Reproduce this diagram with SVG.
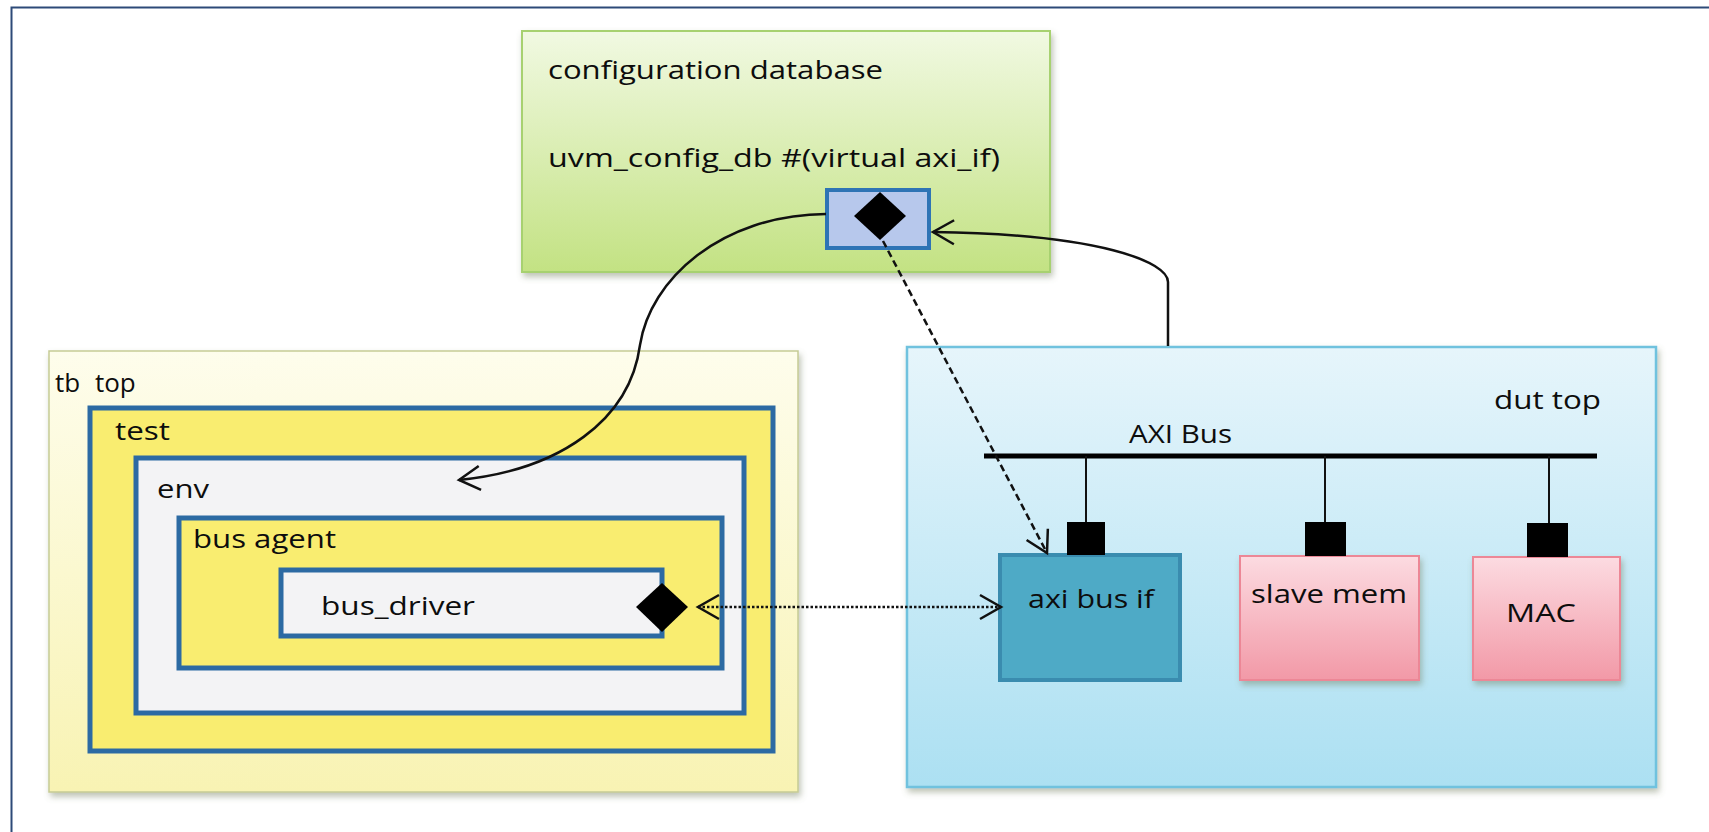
<svg xmlns="http://www.w3.org/2000/svg" width="1709" height="832" viewBox="0 0 1709 832">
  <style>
    .lbl { font-family: "Open Sans", "Liberation Sans", sans-serif; font-size: 26px; fill: #0d0d0d; }
    .blue { stroke: #2c6aa3; stroke-width: 5; }
    .conn { fill: none; stroke: #111; stroke-width: 2.5; }
  </style>
  <defs>
    <linearGradient id="gCfg" x1="0" y1="0" x2="0" y2="1">
      <stop offset="0" stop-color="#f1f9e2"/>
      <stop offset="1" stop-color="#c3e283"/>
    </linearGradient>
    <linearGradient id="gTb" x1="0" y1="0" x2="0" y2="1">
      <stop offset="0" stop-color="#fefdec"/>
      <stop offset="1" stop-color="#f8f3b3"/>
    </linearGradient>
    <linearGradient id="gDut" x1="0" y1="0" x2="0" y2="1">
      <stop offset="0" stop-color="#e6f5fb"/>
      <stop offset="1" stop-color="#ace0f2"/>
    </linearGradient>
    <linearGradient id="gPink" x1="0" y1="0" x2="0" y2="1">
      <stop offset="0" stop-color="#fcdbe1"/>
      <stop offset="1" stop-color="#f299a7"/>
    </linearGradient>
    <filter id="shadow" x="-5%" y="-5%" width="115%" height="120%">
      <feDropShadow dx="2" dy="4" stdDeviation="3" flood-color="#6f7a5a" flood-opacity="0.45"/>
    </filter>
    <marker id="arrowOpen" markerUnits="userSpaceOnUse" orient="auto-start-reverse" refX="0" refY="0" overflow="visible">
      <path d="M -21,-12 L 0,0 L -21,12" fill="none" stroke="#111" stroke-width="2.5" stroke-linejoin="miter"/>
    </marker>
  </defs>

  <rect x="0" y="0" width="1709" height="832" fill="#ffffff"/>
  <g id="frame">
    <path d="M 11.5,840 V 7.5 H 1720" fill="none" stroke="#2d4a78" stroke-width="2"/>
  </g>

  <g id="config-db">
    <rect x="522" y="31" width="528" height="241" fill="url(#gCfg)" stroke="#a7d170" stroke-width="2" filter="url(#shadow)"/>
    <text class="lbl" x="548" y="79" textLength="335" lengthAdjust="spacingAndGlyphs">configuration database</text>
    <text class="lbl" x="548" y="167" textLength="452" lengthAdjust="spacingAndGlyphs">uvm_config_db #(virtual axi_if)</text>
    <g id="config-entry">
      <rect x="827" y="190" width="102" height="58" fill="#b7c8ec" stroke="#2e74b5" stroke-width="4"/>
      <polygon points="880,192 906,216 880,240 854,216" fill="#000"/>
    </g>
  </g>

  <g id="tb-top">
    <rect x="49" y="351" width="749" height="441" fill="url(#gTb)" stroke="#c6cb95" stroke-width="1.5" filter="url(#shadow)"/>
    <text class="lbl" x="55" y="392">tb <tspan dx="8">top</tspan></text>
    <g id="test">
      <rect x="90" y="408" width="683" height="343" fill="#f9ed70" class="blue"/>
      <text class="lbl" x="115" y="440" textLength="55" lengthAdjust="spacingAndGlyphs">test</text>
    </g>
    <g id="env">
      <rect x="136" y="458" width="608" height="255" fill="#f3f3f5" class="blue"/>
      <text class="lbl" x="157" y="498" textLength="52" lengthAdjust="spacingAndGlyphs">env</text>
    </g>
    <g id="bus-agent">
      <rect x="179" y="518" width="543" height="150" fill="#f9ed70" class="blue"/>
      <text class="lbl" x="193" y="548" textLength="143" lengthAdjust="spacingAndGlyphs">bus agent</text>
    </g>
    <g id="bus-driver">
      <rect x="281" y="570" width="381" height="66" fill="#f3f3f5" class="blue"/>
      <text class="lbl" x="321" y="615" textLength="154" lengthAdjust="spacingAndGlyphs">bus_driver</text>
      <polygon points="662,583 688,607 662,632 636,607" fill="#000"/>
    </g>
  </g>

  <g id="dut-top">
    <rect x="907" y="347" width="749" height="440" fill="url(#gDut)" stroke="#6fc2de" stroke-width="2.5" filter="url(#shadow)"/>
    <text class="lbl" x="1494" y="409" textLength="107" lengthAdjust="spacingAndGlyphs">dut top</text>
  </g>

  <g id="axi-bus">
    <line x1="984" y1="456" x2="1597" y2="456" stroke="#000" stroke-width="5"/>
    <text class="lbl" x="1129" y="443" textLength="103" lengthAdjust="spacingAndGlyphs">AXI Bus</text>
    <line x1="1086" y1="456" x2="1086" y2="523" stroke="#111" stroke-width="2"/>
    <line x1="1325" y1="456" x2="1325" y2="523" stroke="#111" stroke-width="2"/>
    <line x1="1549" y1="456" x2="1549" y2="523" stroke="#111" stroke-width="2"/>
  </g>

  <g id="axi-bus-if">
    <rect x="1000" y="555" width="180" height="125" fill="#4eaac6" stroke="#3a8caf" stroke-width="4"/>
    <rect x="1067" y="522" width="38" height="33" fill="#000"/>
    <text class="lbl" x="1028" y="608" textLength="126" lengthAdjust="spacingAndGlyphs">axi bus if</text>
  </g>

  <g id="slave-mem">
    <rect x="1240" y="556" width="179" height="124" fill="url(#gPink)" stroke="#ec8796" stroke-width="2" filter="url(#shadow)"/>
    <rect x="1305" y="522" width="41" height="34" fill="#000"/>
    <text class="lbl" x="1251" y="603" textLength="156" lengthAdjust="spacingAndGlyphs">slave mem</text>
  </g>

  <g id="mac">
    <rect x="1473" y="557" width="147" height="123" fill="url(#gPink)" stroke="#ec8796" stroke-width="2" filter="url(#shadow)"/>
    <rect x="1527" y="523" width="41" height="34" fill="#000"/>
    <text class="lbl" x="1506" y="622" textLength="70" lengthAdjust="spacingAndGlyphs">MAC</text>
  </g>

  <g id="connectors">
    <path class="conn" d="M 826,214 C 720,215 650,280 640,345 C 630,420 560,470 459,480" marker-end="url(#arrowOpen)"/>
    <path class="conn" d="M 1168,346 V 282 C 1168,262 1100,234 933,232" marker-end="url(#arrowOpen)"/>
    <path class="conn" d="M 883,241 L 1047,553" stroke-dasharray="7 4" marker-end="url(#arrowOpen)"/>
    <path class="conn" d="M 698,607 L 1001,607" stroke-width="3" stroke-dasharray="2.5 2" marker-start="url(#arrowOpen)" marker-end="url(#arrowOpen)"/>
  </g>
</svg>
